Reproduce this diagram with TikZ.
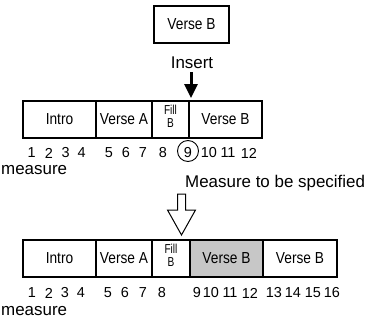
\documentclass[tikz,border=0pt]{standalone}
\usepackage{fontspec}
\setmainfont{Liberation Sans}
\newfontfamily\boxfont[FakeStretch=0.86]{Liberation Sans}
\newfontfamily\fillfont[FakeStretch=0.78]{Liberation Sans}
\usetikzlibrary{arrows.meta}
\begin{document}
\begin{tikzpicture}[x=1bp,y=-1bp,
  seg/.style={draw=black,line width=1.6bp,rectangle,inner sep=0pt,minimum height=37bp,
    font=\boxfont\fontsize{16}{17}\selectfont},
  fillseg/.style={draw=black,line width=1.6bp,rectangle,inner sep=0pt,minimum height=37bp},
  filltxt/.style={inner sep=0pt,outer sep=0pt,font=\fillfont\fontsize{13}{13}\selectfont},
  num/.style={inner sep=0pt,font=\fontsize{14.5}{16}\selectfont},
  lbl/.style={inner sep=0pt,font=\fontsize{17}{20}\selectfont}]
\useasboundingbox (0,0) rectangle (376,325);
% top box
\node[seg,minimum width=75bp] (topb) at (191.5,24.5) {Verse B};
\node[lbl] (insert) at (192,62.5) {Insert};
\coordinate (tip1) at (191,98);
\draw[line width=3bp,-{Triangle[width=13bp,length=14bp]}] (191,72) -- (tip1);
% row 1
\node[seg,minimum width=73bp] (r1intro) at (59.5,119.5) {Intro};
\node[seg,minimum width=56bp] (r1va) at (124,119.5) {Verse A};
\node[fillseg,minimum width=37bp] (r1fill) at (170.5,119.5) {};
\node[filltxt,anchor=base] (r1f1) at (170.5,114.5) {Fill};
\node[filltxt,anchor=base] (r1f2) at (170.5,127) {B};
\node[seg,minimum width=73bp] (r1vb) at (225.5,119.5) {Verse B};
% numbers row 1
\foreach \n/\x in {1/31.7,2/49,3/65.7,4/81.7,5/109,6/126,7/143,8/163,9/188,10/209,11/228,12/249}
  \node[num] (a\n) at (\x,153) {\n};
\node[draw,circle,line width=0.9bp,minimum size=21bp,inner sep=0pt] (c9) at (188,151) {};
\node[lbl,anchor=west] (m1) at (1,170) {measure};
\node[lbl,anchor=west] (spec) at (185,183) {Measure to be specified};
% hollow arrow
\draw[line width=1bp,line join=miter] (177.5,194) -- (185.5,194) -- (185.5,210) -- (195.5,210)
  -- (181.5,235) -- (167.5,210) -- (177.5,210) -- cycle;
% row 2
\node[seg,minimum width=73bp] (r2intro) at (59.5,258.5) {Intro};
\node[seg,minimum width=56bp] (r2va) at (124,258.5) {Verse A};
\node[fillseg,minimum width=38bp] (r2fill) at (171,258.5) {};
\node[filltxt,anchor=base] (r2f1) at (171,253.5) {Fill};
\node[filltxt,anchor=base] (r2f2) at (171,266) {B};
\node[seg,minimum width=73bp,fill=black!22] (r2vb) at (226.5,258.5) {Verse B};
\node[seg,minimum width=74bp] (r2vb2) at (300,258.5) {Verse B};
\foreach \n/\x in {1/32,2/49,3/65,4/81,5/108,6/125,7/143,8/162,9/197,10/211,11/230,12/250,13/274,14/293,15/313,16/332}
  \node[num] (b\n) at (\x,293) {\n};
\node[lbl,anchor=west] (m2) at (1,311) {measure};
\end{tikzpicture}
\end{document}
